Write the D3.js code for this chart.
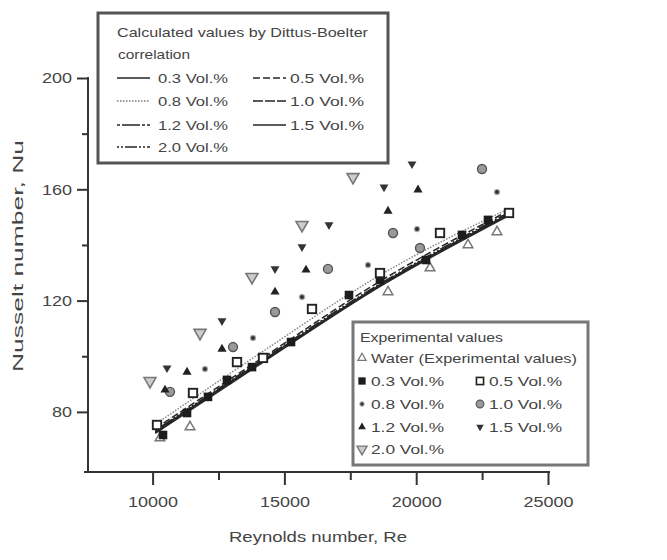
<!DOCTYPE html>
<html><head><meta charset="utf-8">
<script src="https://cdn.jsdelivr.net/npm/d3@7"></script>
<style>body{margin:0;background:#fff} svg text{font-family:"Liberation Sans",Arial,sans-serif;}</style>
</head><body><svg id="c" width="667" height="560"></svg>
<script>
// ---- data ----
const xTicks = [10000, 15000, 20000, 25000];
const xMinor = [12500, 17500, 22500];
const yTicks = [80, 120, 160, 200];
const yMinor = [100, 140, 180];

// Dittus-Boelter correlation lines (Re, Nu)
const lineRe = [10100, 14100, 18600, 23500];
const line03 = [73.0, 98.0, 125.5, 151.0];
const line05 = [74.0, 99.0, 126.8, 152.2];
const line08 = [75.5, 101.2, 129.0, 153.0];
const line10 = [72.6, 97.6, 125.2, 150.8];
const line12 = [72.8, 97.8, 125.4, 151.2];
const line15 = [72.3, 97.3, 124.9, 150.5];
const line20 = [73.3, 98.4, 125.9, 151.6];
const lineLabels = ["0.3 Vol.%", "0.5 Vol.%", "0.8 Vol.%", "1.0 Vol.%", "1.2 Vol.%", "1.5 Vol.%", "2.0 Vol.%"];

// Experimental values [Re, Nu]
const water = [[10281,70.6],[11419,74.6],[18930,123.1],[20524,131.7],[21965,140.0],[23065,144.7]];
const exp03 = [[10395,71.7],[11306,79.6],[12102,85.4],[12823,91.5],[13771,96.1],[15251,105.1],[17451,122.0],[18627,127.4],[20372,134.6],[21738,143.6],[22724,149.0]];
const exp05 = [[10168,75.3],[11533,86.8],[13202,97.9],[14189,99.4],[16047,117.0],[18627,129.9],[20903,144.3],[23521,151.5]];
const exp08 = [[11988,95.4],[13809,106.6],[15668,121.3],[18172,132.8],[20031,145.7],[23065,159.0]];
const exp10 = [[10661,87.2],[13051,103.3],[14644,115.9],[16654,131.4],[19120,144.3],[20144,138.9],[22496,167.3]];
const exp12 = [[10471,87.9],[11306,94.3],[12633,102.6],[14644,123.1],[15820,131.0],[18930,152.2],[20069,159.8]];
const exp15 = [[10547,95.8],[12633,112.7],[14644,131.4],[15668,139.3],[16692,147.2],[18779,160.8],[19841,169.1]];
const exp20 = [[9902,91.1],[11799,108.4],[13771,128.5],[15668,147.2],[17603,164.4]];
const expLabels = ["Water (Experimental values)", "0.3 Vol.%", "0.5 Vol.%", "0.8 Vol.%", "1.0 Vol.%", "1.2 Vol.%", "1.5 Vol.%", "2.0 Vol.%"];

// ---- drawing ----
const svg = d3.select("#c");
const x = d3.scaleLinear().domain([7550, 25000]).range([88, 548]);
const y = d3.scaleLinear().domain([58.4, 200]).range([472, 78]);
const ink = "#262626", txt = "#444";

// axes
const gx = svg.append("g").attr("transform", "translate(0,472)");
gx.call(d3.axisBottom(x).tickValues(xTicks).tickSize(13).tickFormat(d3.format("d")));
gx.append("g").call(d3.axisBottom(x).tickValues(xMinor).tickSize(8).tickFormat(""));
gx.selectAll(".domain").remove();
gx.append("line").attr("x1", 84).attr("x2", 550).attr("stroke", "#333").attr("stroke-width", 2);
gx.selectAll(".tick line").attr("stroke", "#333").attr("stroke-width", 2);
gx.selectAll(".tick text").attr("fill", txt).attr("font-size", 15).attr("dy", "1.25em")
  .attr("textLength", 50).attr("lengthAdjust", "spacingAndGlyphs");

const gy = svg.append("g").attr("transform", "translate(88,0)");
gy.call(d3.axisLeft(y).tickValues(yTicks).tickSize(11).tickFormat(d3.format("d")));
gy.append("g").call(d3.axisLeft(y).tickValues(yMinor).tickSize(6).tickFormat(""));
gy.selectAll(".domain").remove();
gy.append("line").attr("y1", 77).attr("y2", 473).attr("stroke", "#333").attr("stroke-width", 2);
gy.selectAll(".tick line").attr("stroke", "#333").attr("stroke-width", 2);
gy.selectAll(".tick text").attr("fill", txt).attr("font-size", 15).attr("x", -16)
  .each(function(d){ d3.select(this).attr("textLength", String(d).length * 10).attr("lengthAdjust", "spacingAndGlyphs"); });

svg.append("text").attr("x", 318).attr("y", 537).attr("dy", "0.35em").attr("text-anchor", "middle")
  .attr("font-size", 15).attr("fill", txt).attr("textLength", 178).attr("lengthAdjust", "spacingAndGlyphs")
  .text("Reynolds number, Re");
svg.append("text").attr("transform", "translate(18,256) rotate(-90)").attr("dy", "0.35em").attr("text-anchor", "middle")
  .attr("font-size", 15).attr("fill", txt).attr("textLength", 232).attr("lengthAdjust", "spacingAndGlyphs")
  .text("Nusselt number, Nu");

// correlation lines
const dashes = [null, "7,3", "1.5,1.5", "10,2", "3,2,18,2", null, "2,2,2,2,12,2"];
const lines = [line03, line05, line08, line10, line12, line15, line20];
const lineGen = d3.line().x(d => x(d[0])).y(d => y(d[1])).curve(d3.curveMonotoneX);
lines.forEach((vals, i) => {
  const pts = lineRe.map((r, j) => [r, vals[j]]);
  svg.append("path").attr("d", lineGen(pts)).attr("fill", "none")
    .attr("stroke", i === 2 ? "#888" : ink).attr("stroke-width", 1.5)
    .attr("stroke-dasharray", dashes[i]);
});

// markers
const tri = d3.symbol().type(d3.symbolTriangle);
const markers = [
  (g) => g.append("path").attr("d", tri.size(40)()).attr("fill", "#fff").attr("stroke", "#777").attr("stroke-width", 1.5),
  (g) => g.append("rect").attr("x", -4.3).attr("y", -4.3).attr("width", 8.6).attr("height", 8.6).attr("fill", "#1c1c1c"),
  (g) => g.append("rect").attr("x", -4.2).attr("y", -4.2).attr("width", 8.4).attr("height", 8.4).attr("fill", "#fff").attr("stroke", "#222").attr("stroke-width", 1.9),
  (g) => g.append("circle").attr("r", 2.6).attr("fill", "#333").attr("stroke", "#aaa").attr("stroke-width", 1.2),
  (g) => g.append("circle").attr("r", 4.5).attr("fill", "#9a9a9a").attr("stroke", "#555").attr("stroke-width", 1.4),
  (g) => g.append("path").attr("d", tri.size(36)()).attr("fill", "#222"),
  (g) => g.append("path").attr("d", tri.size(34)()).attr("transform", "rotate(180)").attr("fill", "#333"),
  (g) => g.append("path").attr("d", tri.size(62)()).attr("transform", "rotate(180)").attr("fill", "#ccc").attr("stroke", "#777").attr("stroke-width", 1.6)
];
const exps = [water, exp03, exp05, exp08, exp10, exp12, exp15, exp20];
exps.forEach((pts, i) => {
  pts.forEach(p => {
    const g = svg.append("g").attr("transform", `translate(${x(p[0])},${y(p[1])})`);
    markers[i](g);
  });
});

// legend 1
const L1 = svg.append("g");
L1.append("rect").attr("x", 98).attr("y", 13).attr("width", 290).attr("height", 150)
  .attr("fill", "#fff").attr("stroke", "#555").attr("stroke-width", 3);
L1.append("text").attr("x", 117).attr("y", 32).attr("dy", "0.35em").attr("font-size", 13.5).attr("fill", txt)
  .attr("textLength", 251).attr("lengthAdjust", "spacingAndGlyphs").text("Calculated values by Dittus-Boelter");
L1.append("text").attr("x", 118).attr("y", 54).attr("dy", "0.35em").attr("font-size", 13.5).attr("fill", txt)
  .attr("textLength", 72).attr("lengthAdjust", "spacingAndGlyphs").text("correlation");
const rows1 = [78, 101, 125, 147];
lineLabels.forEach((lab, i) => {
  const col = i % 2, row = Math.floor(i / 2);
  const lx = col ? 253 : 117, ty = rows1[row];
  L1.append("line").attr("x1", lx).attr("x2", lx + 33).attr("y1", ty).attr("y2", ty)
    .attr("stroke", i === 2 ? "#777" : ink).attr("stroke-width", 1.7).attr("stroke-dasharray", dashes[i]);
  L1.append("text").attr("x", col ? 290 : 158).attr("y", ty).attr("dy", "0.35em").attr("font-size", 13.5)
    .attr("fill", txt).attr("textLength", col ? 74 : 70).attr("lengthAdjust", "spacingAndGlyphs").text(lab);
});

// legend 2
const L2 = svg.append("g");
L2.append("rect").attr("x", 353).attr("y", 322).attr("width", 235).attr("height", 143)
  .attr("fill", "#fff").attr("stroke", "#777").attr("stroke-width", 3);
L2.append("text").attr("x", 360).attr("y", 337).attr("dy", "0.35em").attr("font-size", 13.5).attr("fill", txt)
  .attr("textLength", 143).attr("lengthAdjust", "spacingAndGlyphs").text("Experimental values");
const rows2 = [358, 381, 404, 427, 449];
expLabels.forEach((lab, i) => {
  let row, col;
  if (i === 0) { row = 0; col = 0; } else { row = 1 + Math.floor((i - 1) / 2); col = (i - 1) % 2; }
  const mx = col ? 480 : 362, ty = rows2[row];
  const g = L2.append("g").attr("transform", `translate(${mx},${ty})scale(0.85)`);
  markers[i](g);
  L2.append("text").attr("x", mx + 9).attr("y", ty).attr("dy", "0.35em").attr("font-size", 13.5).attr("fill", txt)
    .attr("textLength", i === 0 ? 206 : 73).attr("lengthAdjust", "spacingAndGlyphs").text(lab);
});
</script></body></html>
